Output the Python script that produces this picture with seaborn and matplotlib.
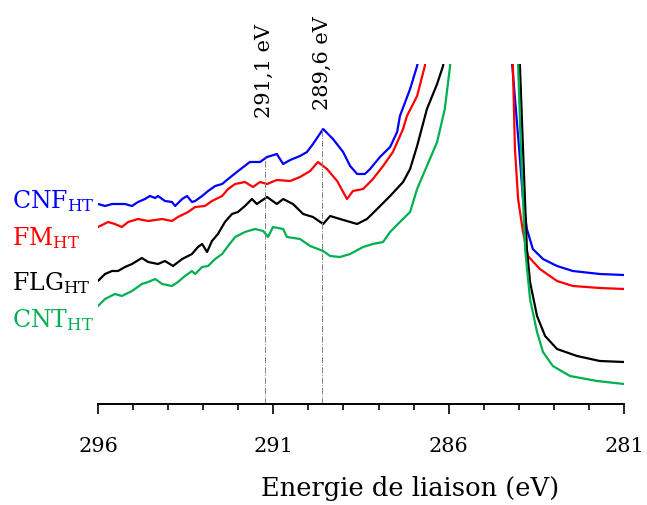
import numpy as np
import pandas as pd
import matplotlib
matplotlib.use("Agg")
import matplotlib.pyplot as plt
import seaborn as sns

# spectres C1s (intensité relative)
cnf_ev = [296.00, 295.80, 295.60, 295.43, 295.23, 295.03, 294.86, 294.66, 294.52, 294.37,
          294.29, 294.09, 293.89, 293.80, 293.60, 293.46, 293.32, 293.23, 293.03, 292.86,
          292.66, 292.46, 292.29, 292.04, 291.67, 291.38, 291.18, 290.90, 290.72, 290.52,
          290.24, 290.04, 289.87, 289.58, 289.30, 289.01, 288.81, 288.61, 288.39, 288.24,
          287.96, 287.67, 287.47, 287.39, 287.10, 286.90, 285.10,
          284.19, 283.99, 283.88, 283.77, 283.60, 283.31, 282.91, 282.46, 281.69, 281.00]
cnf_i = [200, 198, 200, 200, 200, 198, 202, 205, 208, 206,
         208, 203, 202, 198, 205, 208, 202, 203, 208, 213,
         218, 220, 225, 232, 242, 242, 247, 250, 240, 244,
         248, 252, 260, 275, 265, 252, 238, 230, 230, 235,
         247, 257, 272, 288, 315, 338, 700,
         340, 255, 205, 175, 155, 145, 138, 133, 130, 129]

fm_ev = [296.00, 295.71, 295.52, 295.32, 295.14, 294.86, 294.57, 294.17, 293.89, 293.72,
         293.43, 293.23, 292.95, 292.75, 292.46, 292.29, 292.09, 291.81, 291.58, 291.38,
         291.18, 290.90, 290.52, 290.24, 289.95, 289.73, 289.47, 289.18, 288.90, 288.73,
         288.44, 288.16, 287.87, 287.59, 287.30, 287.19, 286.90, 286.68, 285.10,
         284.17, 284.11, 284.02, 283.88, 283.74, 283.40, 282.91, 282.46, 281.69, 281.00]
fm_i = [177, 182, 180, 177, 182, 185, 183, 185, 183, 187,
        192, 197, 198, 203, 208, 215, 220, 222, 217, 222,
        220, 224, 223, 227, 233, 242, 235, 223, 205, 213,
        215, 225, 238, 252, 275, 288, 308, 338, 700,
        340, 255, 205, 172, 148, 135, 123, 118, 116, 115]

flg_ev = [296.00, 295.80, 295.60, 295.43, 295.23, 295.03, 294.75, 294.57, 294.29, 294.09,
          293.86, 293.60, 293.32, 293.15, 293.03, 292.89, 292.75, 292.58, 292.38, 292.18,
          292.01, 291.81, 291.61, 291.47, 291.18, 290.90, 290.72, 290.44, 290.15, 289.87,
          289.58, 289.38, 289.10, 288.61, 288.33, 288.04, 287.67, 287.30, 287.10, 286.90,
          286.62, 286.33, 286.16, 285.10,
          283.97, 283.88, 283.77, 283.68, 283.48, 283.25, 282.91, 282.34, 281.69, 281.00]
flg_i = [123, 130, 133, 133, 137, 140, 146, 142, 140, 143,
         138, 145, 150, 157, 160, 152, 163, 170, 182, 190,
         192, 198, 205, 200, 207, 200, 205, 200, 190, 187,
         180, 188, 185, 180, 185, 195, 208, 222, 235, 258,
         295, 320, 338, 700,
         340, 255, 155, 122, 88, 68, 55, 48, 43, 42]

cnt_ev = [296.00, 295.80, 295.52, 295.32, 295.03, 294.75, 294.57, 294.37, 294.17, 293.89,
          293.72, 293.52, 293.32, 293.23, 293.03, 292.86, 292.66, 292.46, 292.29, 292.09,
          291.81, 291.52, 291.29, 291.15, 291.01, 290.72, 290.61, 290.24, 289.95, 289.58,
          289.38, 289.10, 288.81, 288.44, 288.16, 287.87, 287.67, 287.39, 287.10, 286.90,
          286.62, 286.33, 286.11, 285.96, 285.10,
          284.02, 283.94, 283.82, 283.68, 283.48, 283.31, 283.03, 282.54, 281.77, 281.00]
cnt_i = [98, 105, 110, 108, 113, 120, 122, 125, 120, 118,
         122, 128, 133, 130, 137, 138, 145, 150, 158, 167,
         172, 175, 173, 167, 177, 175, 167, 165, 158, 153,
         148, 147, 150, 157, 160, 162, 172, 182, 192, 215,
         238, 262, 295, 338, 700,
         340, 255, 155, 105, 72, 52, 38, 28, 23, 20]

noms = ["CNF", "FM", "FLG", "CNT"]
couleurs = ["#0000FF", "#FF0000", "#000000", "#00B050"]
lignes_ev = [291.25, 289.6]
lignes_haut = [248, 275]
lignes_txt = ["291,1 eV", "289,6 eV"]
ticks_major = [296, 291, 286, 281]

df = pd.concat([
    pd.DataFrame({"energie": cnf_ev, "intensite": cnf_i, "echantillon": "CNF"}),
    pd.DataFrame({"energie": fm_ev, "intensite": fm_i, "echantillon": "FM"}),
    pd.DataFrame({"energie": flg_ev, "intensite": flg_i, "echantillon": "FLG"}),
    pd.DataFrame({"energie": cnt_ev, "intensite": cnt_i, "echantillon": "CNT"}),
])

sns.set_theme(style="white")
plt.rcParams["font.family"] = ["DejaVu Serif"]
plt.rcParams["mathtext.fontset"] = "dejavuserif"

fig = plt.figure(figsize=(6.47, 5.06), dpi=100)
ax = fig.add_axes([98 / 647, 1 - 405 / 506, 526 / 647, 340 / 506])

sns.lineplot(data=df, x="energie", y="intensite", hue="echantillon",
             palette=dict(zip(noms, couleurs)), estimator=None, sort=False,
             legend=False, linewidth=1.6, ax=ax)

# lignes de référence
ax.vlines(lignes_ev, 0, lignes_haut, colors="#808080", linestyles="dashdot", linewidth=0.7)
for xv, yt, txt in zip(lignes_ev, [287, 295], lignes_txt):
    ax.text(xv, yt, txt, rotation=90, ha="center", va="bottom", fontsize=15,
            color="black", clip_on=False)

ax.set_xlim(296, 281)
ax.set_ylim(0, 340)
ax.set_yticks([])
ax.set_ylabel("")
ax.set_xticks(ticks_major)
ax.set_xticks(np.arange(281, 297, 1), minor=True)
ax.tick_params(axis="x", which="major", direction="out", length=7, width=1.2,
               pad=16, labelsize=15, colors="black", bottom=True)
ax.tick_params(axis="x", which="minor", direction="out", length=4.5, width=1.2,
               colors="black", bottom=True)
for s in ["left", "top", "right"]:
    ax.spines[s].set_visible(False)
ax.spines["bottom"].set_color("black")
ax.spines["bottom"].set_linewidth(1.4)

ax.set_xlabel("Energie de liaison (eV)", fontsize=18.5, color="black")
ax.xaxis.set_label_coords((410 - 98) / 526, -0.21)

# étiquettes des échantillons
etiq_y = [208, 245, 290, 327]
for nom, c, yb in zip(noms, couleurs, etiq_y):
    fig.text(12 / 647, 1 - yb / 506, nom + r"$_{\mathrm{HT}}$", color=c,
             fontsize=17, ha="left", va="baseline")

fig.savefig("out.png", dpi=100)
